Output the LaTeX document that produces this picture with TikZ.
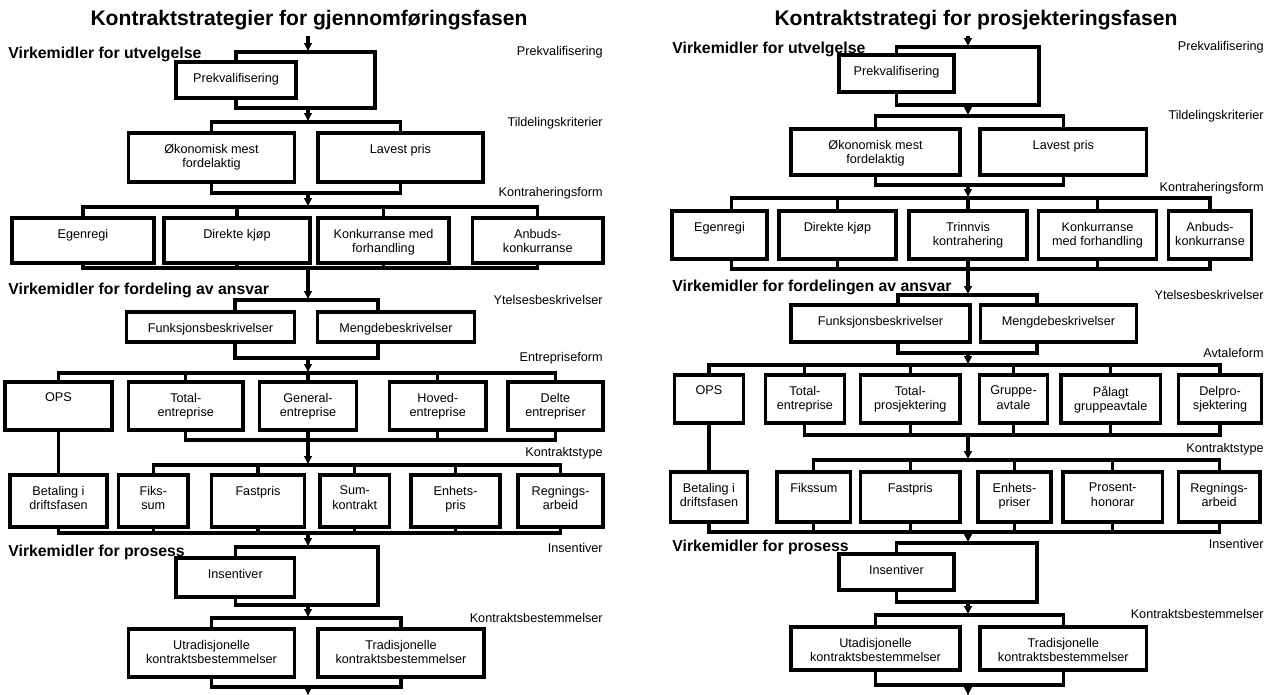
\documentclass[tikz,border=0pt]{standalone}
\usepackage{fontspec}
\setmainfont{Liberation Sans}
\usepackage{tikz}
\usetikzlibrary{arrows.meta}
\newcommand{\boksfont}{\fontsize{7.2}{8.4}\selectfont}
\tikzset{
  boks/.style 2 args={rectangle, draw=black, line width=1.9pt,
    minimum width=#1cm, minimum height=#2cm, inner sep=0pt},
  tekst/.style={anchor=north, align=center, inner sep=0pt, yshift=-7pt,
    font=\boksfont},
  fase/.style={anchor=east, inner sep=0pt, font=\boksfont},
  overskrift/.style={anchor=west, inner sep=0pt,
    font=\bfseries\fontsize{9}{11}\selectfont},
  tittel/.style={inner sep=0pt, font=\bfseries\fontsize{12}{14}\selectfont},
  linje/.style={line width=1.8pt},
  pil/.style={line width=1.8pt, -{Latex[length=5pt, width=5pt]}}
}

\begin{document}
\begin{tikzpicture}[x=0.02cm, y=-0.02cm]
\useasboundingbox (0,0) rectangle (1273,695);

\node (titL) [tittel] at (309,20) {Kontraktstrategier for gjennomføringsfasen};
\node (utvL)  [overskrift] at (8,54)  {Virkemidler for utvelgelse};
\node (ansvL) [overskrift] at (8,290) {Virkemidler for fordeling av ansvar};
\node (prosL) [overskrift] at (8,552) {Virkemidler for prosess};

\node (f1L) [fase] at (603,52)  {Prekvalifisering};
\node (f2L) [fase] at (603,123) {Tildelingskriterier};
\node (f3L) [fase] at (603,193) {Kontraheringsform};
\node (f4L) [fase] at (603,300) {Ytelsesbeskrivelser};
\node (f5L) [fase] at (603,358) {Entrepriseform};
\node (f6L) [fase] at (603,453) {Kontraktstype};
\node (f7L) [fase] at (603,548) {Insentiver};
\node (f8L) [fase] at (603,618) {Kontraktsbestemmelser};

\node (prekvL)   [boks={2.4}{0.72}, label={[tekst]north:Prekvalifisering}] at (236,80) {};
\node (okonL)    [boks={3.32}{0.98}, label={[tekst]north:{Økonomisk mest\\fordelaktig}}] at (211.5,157.5) {};
\node (lavestL)  [boks={3.3}{0.98}, label={[tekst]north:Lavest pris}] at (400.5,157.5) {};
\node (egenL)    [boks={2.84}{0.9}, label={[tekst]north:Egenregi}] at (83,240.5) {};
\node (direkteL) [boks={2.92}{0.9}, label={[tekst]north:Direkte kjøp}] at (237,240.5) {};
\node (konkL)    [boks={2.62}{0.9}, label={[tekst]north:{Konkurranse med\\forhandling}}] at (383.5,240.5) {};
\node (anbudL)   [boks={2.61}{0.9}, label={[tekst]north:{Anbuds-\\konkurranse}}] at (537.75,240.5) {};
\node (funkL)    [boks={3.36}{0.6}, label={[tekst]north:Funksjonsbeskrivelser}] at (210.5,327) {};
\node (mengL)    [boks={3.13}{0.6}, label={[tekst]north:Mengdebeskrivelser}] at (396,327) {};
\node (opsL)     [boks={2.14}{0.96}, label={[tekst]north:OPS}] at (58.5,406) {};
\node (totalL)   [boks={2.29}{0.96}, label={[tekst]north:{Total-\\entreprise}}] at (185.75,406) {};
\node (generalL) [boks={1.94}{0.96}, label={[tekst]north:{General-\\entreprise}}] at (308,406) {};
\node (hovedL)   [boks={1.93}{0.96}, label={[tekst]north:{Hoved-\\entreprise}}] at (437.75,406) {};
\node (delteL)   [boks={1.9}{0.96}, label={[tekst]north:{Delte\\entrepriser}}] at (555.5,406) {};
\node (betalL)   [boks={1.94}{1.04}, label={[tekst]north:{Betaling i\\driftsfasen}}] at (58.5,501) {};
\node (fiksL)    [boks={1.39}{1.04}, label={[tekst]north:{Fiks-\\sum}}] at (153.3,501) {};
\node (fastL)    [boks={1.86}{1.04}, label={[tekst]north:Fastpris}] at (258,501) {};
\node (sumL)     [boks={1.39}{1.04}, label={[tekst]north:{Sum-\\kontrakt}}] at (354.75,501) {};
\node (enhetL)   [boks={1.78}{1.04}, label={[tekst]north:{Enhets-\\pris}}] at (455.5,501) {};
\node (regnL)    [boks={1.7}{1.04}, label={[tekst]north:{Regnings-\\arbeid}}] at (560.5,501) {};
\node (insL)     [boks={2.37}{0.78}, label={[tekst]north:Insentiver}] at (235.3,577.5) {};
\node (utradL)   [boks={3.32}{0.96}, label={[tekst]north:{Utradisjonelle\\kontraktsbestemmelser}}] at (211.5,653) {};
\node (tradL)    [boks={3.32}{0.96}, label={[tekst]north:{Tradisjonelle\\kontraktsbestemmelser}}] at (401,653) {};

\coordinate (vL0) at (308,36);   \coordinate (vL1) at (308,52);
\coordinate (vL2) at (308,108);  \coordinate (vL3) at (308,122);
\coordinate (vL4) at (308,193);  \coordinate (vL5) at (308,207);
\coordinate (vL6) at (308,268);  \coordinate (vL7) at (308,300);
\coordinate (vL8) at (308,358);  \coordinate (vL9) at (308,373);
\coordinate (vL10) at (308,440); \coordinate (vL11) at (308,465);
\coordinate (vL12) at (308,533); \coordinate (vL13) at (308,547);
\coordinate (vL14) at (308,605); \coordinate (vL15) at (308,618);
\coordinate (vL16) at (308,687); \coordinate (vL17) at (308,696);
\coordinate (rL1) at (375,52);   \coordinate (rL2) at (375,108);
\coordinate (rL3) at (378,547);  \coordinate (rL4) at (378,605);

\draw[pil] (vL0) -- (vL1);
\draw[linje] (prekvL.north) |- (rL1) -- (rL2) -| (prekvL.south);
\draw[pil] (vL2) -- (vL3);
\draw[linje] (okonL.north) |- (vL3) -| (lavestL.north);
\draw[linje] (okonL.south) |- (vL4) -| (lavestL.south);
\draw[pil] (vL4) -- (vL5);
\draw[linje] (egenL.north) |- (vL5) -| (anbudL.north)
  (direkteL.north) |- (vL5) (konkL.north) |- (vL5);
\draw[linje] (egenL.south) |- (vL6) -| (anbudL.south)
  (direkteL.south) |- (vL6) (konkL.south) |- (vL6);
\draw[pil] (vL6) -- (vL7);
\draw[linje] ([xshift=0.49cm]funkL.north) |- (vL7) -| ([xshift=-0.36cm]mengL.north);
\draw[linje] ([xshift=0.49cm]funkL.south) |- (vL8) -| ([xshift=-0.36cm]mengL.south);
\draw[pil] (vL8) -- (vL9);
\draw[linje] (opsL.north) |- (vL9) -| (delteL.north)
  (totalL.north) |- (vL9) (generalL.north) -- (vL9) (hovedL.north) |- (vL9);
\draw[linje] (totalL.south) |- (vL10) -| (delteL.south)
  (generalL.south) -- (vL10) (hovedL.south) |- (vL10);
\draw[linje] (opsL.south) -- (betalL.north);
\draw[pil] (vL10) -- (vL11);
\draw[linje] (fiksL.north) |- (vL11) -| (regnL.north)
  (fastL.north) |- (vL11) (sumL.north) |- (vL11) (enhetL.north) |- (vL11);
\draw[linje] (betalL.south) |- (vL12) -| (regnL.south) (fiksL.south) |- (vL12)
  (fastL.south) |- (vL12) (sumL.south) |- (vL12) (enhetL.south) |- (vL12);
\draw[pil] (vL12) -- (vL13);
\draw[linje] (insL.north) |- (rL3) -- (rL4) -| (insL.south);
\draw[pil] (vL14) -- (vL15);
\draw[linje] (utradL.north) |- (vL15) -| (tradL.north);
\draw[linje] (utradL.south) |- (vL16) -| (tradL.south);
\draw[pil] (vL16) -- (vL17);

\node (titR) [tittel] at (976,20) {Kontraktstrategi for prosjekteringsfasen};
\node (utvR)  [overskrift] at (672,49)  {Virkemidler for utvelgelse};
\node (ansvR) [overskrift] at (672,287) {Virkemidler for fordelingen av ansvar};
\node (prosR) [overskrift] at (672,547) {Virkemidler for prosess};

\node (f1R) [fase] at (1264,47)  {Prekvalifisering};
\node (f2R) [fase] at (1264,116) {Tildelingskriterier};
\node (f3R) [fase] at (1264,188) {Kontraheringsform};
\node (f4R) [fase] at (1264,295) {Ytelsesbeskrivelser};
\node (f5R) [fase] at (1264,353) {Avtaleform};
\node (f6R) [fase] at (1264,449) {Kontraktstype};
\node (f7R) [fase] at (1264,544) {Insentiver};
\node (f8R) [fase] at (1264,614) {Kontraktsbestemmelser};

\node (prekvR)   [boks={2.3}{0.74}, label={[tekst]north:Prekvalifisering}] at (896.5,73.5) {};
\node (okonR)    [boks={3.38}{0.92}, label={[tekst]north:{Økonomisk mest\\fordelaktig}}] at (875.5,152) {};
\node (lavestR)  [boks={3.33}{0.92}, label={[tekst]north:Lavest pris}] at (1063.3,152) {};
\node (egenR)    [boks={1.9}{0.96}, label={[tekst]north:Egenregi}] at (719.5,235) {};
\node (direkteR) [boks={2.34}{0.96}, label={[tekst]north:Direkte kjøp}] at (837.5,235) {};
\node (trinnR)   [boks={2.36}{0.96}, label={[tekst]north:{Trinnvis\\kontrahering}}] at (968,235) {};
\node (konkR)    [boks={2.36}{0.96}, label={[tekst]north:{Konkurranse\\med forhandling}}] at (1097.5,235) {};
\node (anbudR)   [boks={1.67}{0.96}, label={[tekst]north:{Anbuds-\\konkurranse}}] at (1210,235) {};
\node (funkR)    [boks={3.58}{0.74}, label={[tekst]north:Funksjonsbeskrivelser}] at (880.5,323.5) {};
\node (mengR)    [boks={3.13}{0.74}, label={[tekst]north:Mengdebeskrivelser}] at (1058.4,323.5) {};
\node (opsR)     [boks={1.38}{0.96}, label={[tekst]north:OPS}] at (709,399) {};
\node (totalR)   [boks={1.59}{0.96}, label={[tekst]north:{Total-\\entreprise}}] at (804.9,399) {};
\node (totprR)   [boks={1.99}{0.96}, label={[tekst]north:{Total-\\prosjektering}}] at (910.3,399) {};
\node (gruppeR)  [boks={1.35}{0.96}, label={[tekst]north:{Gruppe-\\avtale}}] at (1013.5,399) {};
\node (paalagtR) [boks={1.99}{0.96}, label={[tekst]north:{Pålagt\\gruppeavtale}}] at (1110.75,399) {};
\node (delproR)  [boks={1.67}{0.96}, label={[tekst]north:{Delpro-\\sjektering}}] at (1220,399) {};
\node (betalR)   [boks={1.54}{1.0}, label={[tekst]north:{Betaling i\\driftsfasen}}] at (709,497) {};
\node (fiksR)    [boks={1.47}{1.0}, label={[tekst]north:Fikssum}] at (813.8,497) {};
\node (fastR)    [boks={1.99}{1.0}, label={[tekst]north:Fastpris}] at (910.3,497) {};
\node (enhetR)   [boks={1.46}{1.0}, label={[tekst]north:{Enhets-\\priser}}] at (1014.4,497) {};
\node (prosentR) [boks={1.99}{1.0}, label={[tekst]north:{Prosent-\\honorar}}] at (1112.75,497) {};
\node (regnR)    [boks={1.63}{1.0}, label={[tekst]north:{Regnings-\\arbeid}}] at (1219.1,497) {};
\node (insR)     [boks={2.3}{0.72}, label={[tekst]north:Insentiver}] at (896.5,572) {};
\node (utradR)   [boks={3.38}{0.86}, label={[tekst]north:{Utadisjonelle\\kontraktsbestemmelser}}] at (875.5,648.5) {};
\node (tradR)    [boks={3.33}{0.86}, label={[tekst]north:{Tradisjonelle\\kontraktsbestemmelser}}] at (1063.3,648.5) {};

\coordinate (vR0) at (968,36);   \coordinate (vR1) at (968,47);
\coordinate (vR2) at (968,105);  \coordinate (vR3) at (968,116);
\coordinate (vR4) at (968,185);  \coordinate (vR5) at (968,198);
\coordinate (vR6) at (968,269);  \coordinate (vR7) at (968,295);
\coordinate (vR8) at (968,353);  \coordinate (vR9) at (968,365);
\coordinate (vR10) at (968,435); \coordinate (vR11) at (968,460);
\coordinate (vR12) at (968,532); \coordinate (vR13) at (968,543);
\coordinate (vR14) at (968,602); \coordinate (vR15) at (968,615);
\coordinate (vR16) at (968,685); \coordinate (vR17) at (968,696);
\coordinate (rR1) at (1039,47);  \coordinate (rR2) at (1039,105);
\coordinate (rR3) at (1037,543); \coordinate (rR4) at (1037,602);

\draw[pil] (vR0) -- (vR1);
\draw[linje] (prekvR.north) |- (rR1) -- (rR2) -| (prekvR.south);
\draw[pil] (vR2) -- (vR3);
\draw[linje] (okonR.north) |- (vR3) -| (lavestR.north);
\draw[linje] (okonR.south) |- (vR4) -| (lavestR.south);
\draw[pil] (vR4) -- (vR5);
\draw[linje] ([xshift=0.24cm]egenR.north) |- (vR5) -| (anbudR.north)
  (direkteR.north) |- (vR5) (trinnR.north) -- (vR5) (konkR.north) |- (vR5);
\draw[linje] ([xshift=0.24cm]egenR.south) |- (vR6) -| (anbudR.south)
  (direkteR.south) |- (vR6) (trinnR.south) -- (vR6) (konkR.south) |- (vR6);
\draw[pil] (vR6) -- (vR7);
\draw[linje] ([xshift=0.35cm]funkR.north) |- (vR7) -| ([xshift=-0.43cm]mengR.north);
\draw[linje] ([xshift=0.35cm]funkR.south) |- (vR8) -| ([xshift=-0.43cm]mengR.south);
\draw[pil] (vR8) -- (vR9);
\draw[linje] (opsR.north) |- (vR9) -| (delproR.north) (totalR.north) |- (vR9)
  (totprR.north) |- (vR9) (gruppeR.north) |- (vR9) (paalagtR.north) |- (vR9);
\draw[linje] (totalR.south) |- (vR10) -| (delproR.south) (totprR.south) |- (vR10)
  (gruppeR.south) |- (vR10) (paalagtR.south) |- (vR10);
\draw[linje] (opsR.south) -- (betalR.north);
\draw[pil] (vR10) -- (vR11);
\draw[linje] (fiksR.north) |- (vR11) -| (regnR.north)
  (fastR.north) |- (vR11) (enhetR.north) |- (vR11) (prosentR.north) |- (vR11);
\draw[linje] (betalR.south) |- (vR12) -| (regnR.south) (fiksR.south) |- (vR12)
  (fastR.south) |- (vR12) (enhetR.south) |- (vR12) (prosentR.south) |- (vR12);
\draw[pil] (vR12) -- (vR13);
\draw[linje] (insR.north) |- (rR3) -- (rR4) -| (insR.south);
\draw[pil] (vR14) -- (vR15);
\draw[linje] (utradR.north) |- (vR15) -| (tradR.north);
\draw[linje] (utradR.south) |- (vR16) -| (tradR.south);
\draw[pil] (vR16) -- (vR17);
\end{tikzpicture}
\end{document}
